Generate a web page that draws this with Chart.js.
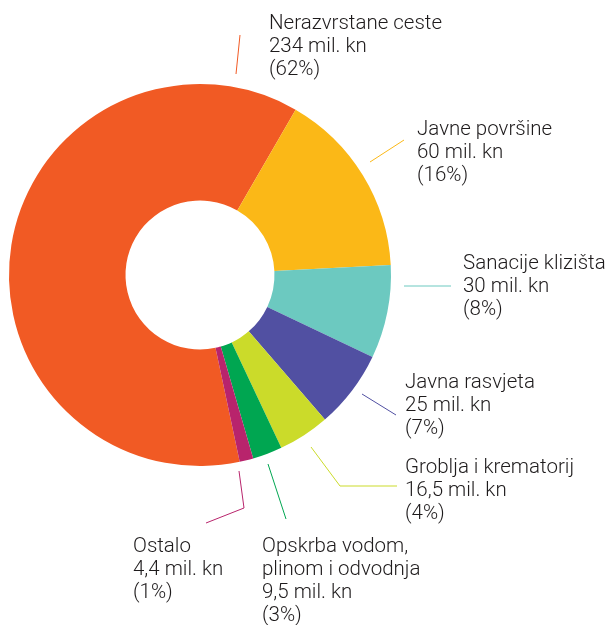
<!DOCTYPE html>
<html>
<head>
<meta charset="utf-8">
<script src="https://cdn.jsdelivr.net/npm/chart.js@4/dist/chart.umd.min.js"></script>
<style>
  html, body { margin: 0; padding: 0; background: #fff; }
  canvas { display: block; }
</style>
</head>
<body>
<canvas id="budgetChart" width="607" height="625"></canvas>
<script>
// Data (mil. kn)
const categories = [
  ["Nerazvrstane ceste"],
  ["Javne površine"],
  ["Sanacije klizišta"],
  ["Javna rasvjeta"],
  ["Groblja i krematorij"],
  ["Opskrba vodom,", "plinom i odvodnja"],
  ["Ostalo"],
];
const values = [234, 60, 30, 25, 16.5, 9.5, 4.4];
const unit = "mil. kn";

const colors = ["#F15A24", "#FBB817", "#6CC9C0", "#5150A2", "#CBDB2A", "#00A651", "#B8246C"];

// leader lines and label anchors, relative to the doughnut centre
const leaders = [
  [[36, -201], [40, -240]],
  [[170, -113], [204, -135]],
  [[204, 11], [251, 11]],
  [[162, 119], [196, 140]],
  [[111, 172], [137, 207], [140, 211], [197, 211]],
  [[68, 189], [86, 244]],
  [[39, 196], [44, 233], [6, 248]],
];
const labelPos = [
  [69, -246], [217, -140], [263, -6], [205, 113], [205, 198], [62, 277], [-67, 277],
];

const fmt = (v) => String(v).replace(".", ",");

const calloutPlugin = {
  id: "callouts",
  afterDraw(chart) {
    const ctx = chart.ctx;
    const arcs = chart.getDatasetMeta(0).data;
    const cx = arcs[0].x, cy = arcs[0].y;
    const total = values.reduce((a, b) => a + b, 0);
    ctx.save();
    leaders.forEach((pts, i) => {
      ctx.beginPath();
      ctx.strokeStyle = colors[i];
      ctx.lineWidth = 1;
      pts.forEach(([dx, dy], j) => {
        if (j === 0) ctx.moveTo(cx + dx, cy + dy);
        else ctx.lineTo(cx + dx, cy + dy);
      });
      ctx.stroke();
    });
    ctx.fillStyle = "#1E1B1C";
    ctx.font = "300 20.5px Roboto";
    ctx.textBaseline = "alphabetic";
    ctx.textAlign = "left";
    categories.forEach((name, i) => {
      const lines = [...name, `${fmt(values[i])} ${unit}`, `(${Math.round((values[i] / total) * 100)}%)`];
      const [dx, dy] = labelPos[i];
      lines.forEach((t, j) => ctx.fillText(t, cx + dx, cy + dy + j * 23));
    });
    ctx.restore();
  },
};

new Chart(document.getElementById("budgetChart"), {
  type: "doughnut",
  data: {
    labels: categories.map((c) => c.join(" ")),
    datasets: [
      {
        data: values,
        backgroundColor: colors,
        borderWidth: 0,
      },
    ],
  },
  options: {
    responsive: false,
    animation: false,
    devicePixelRatio: 1,
    rotation: 168,
    cutout: "39%",
    layout: { padding: { left: 9, top: 84, right: 216, bottom: 159 } },
    plugins: {
      legend: { display: false },
      tooltip: { enabled: false },
    },
  },
  plugins: [calloutPlugin],
});
</script>
</body>
</html>
